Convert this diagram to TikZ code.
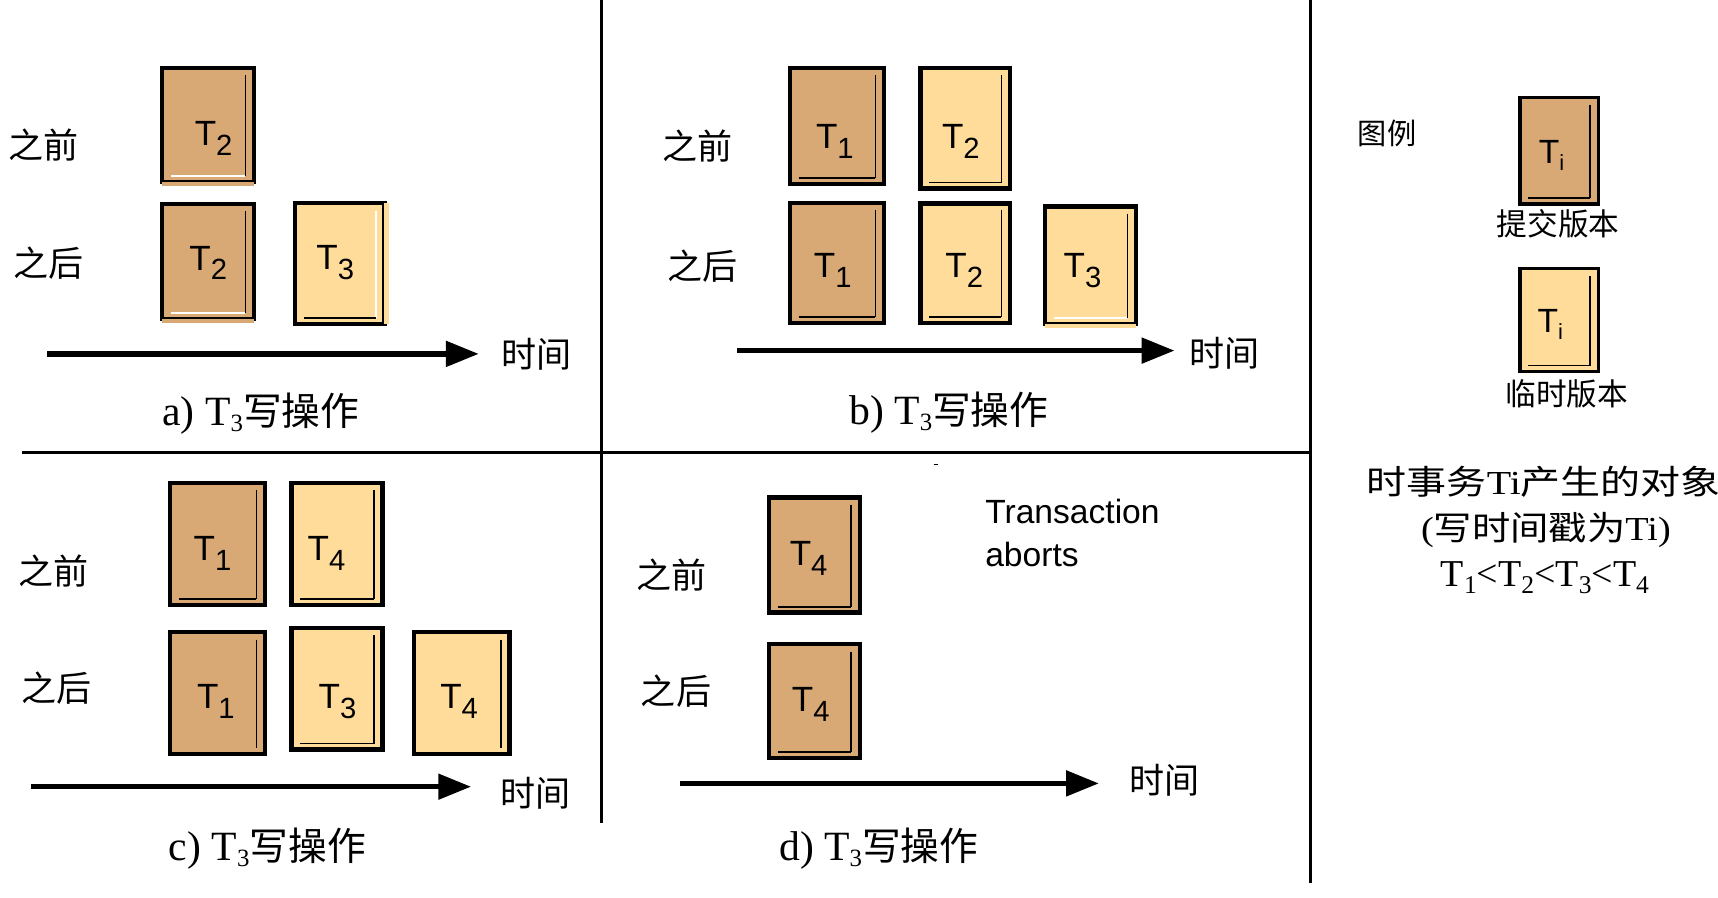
\documentclass[tikz,border=0pt]{standalone}
\usepackage{fontspec}
\setmainfont{Liberation Serif}
\newfontfamily\cjk{Noto Sans CJK SC}
\newfontfamily\arialf{Liberation Sans}
\usetikzlibrary{arrows.meta}
\definecolor{dark}{HTML}{D8A974}
\definecolor{light}{HTML}{FFDC99}
\newcommand\Tsub[1]{T\raisebox{-6.75pt}{\fontsize{20}{20}\selectfont #1}}
\newcommand\Tcap[1]{T\raisebox{-3.5pt}{\fontsize{17}{17}\selectfont #1}{\cjk\fontsize{26.5}{30}\selectfont 写操作}}
\newcommand\ssub[1]{\raisebox{-4.5pt}{\fontsize{17.5}{17.5}\selectfont #1}}
\newcommand\Tleg{T\raisebox{-5pt}{\fontsize{15}{15}\selectfont i}}
\tikzset{
  vcol/.store in=\vcol, hcol/.store in=\hcol,
  tb/.style={draw=black, line width=3pt, inner sep=0pt, vcol=black, hcol=black,
    path picture={
      \draw[line width=1.2pt, draw=\vcol] ([xshift=-6pt,yshift=-5pt]path picture bounding box.north east) -- ([xshift=-6pt,yshift=4pt]path picture bounding box.south east);
      \draw[line width=1.2pt, draw=\hcol] ([xshift=6pt,yshift=4pt]path picture bounding box.south west) -- ([xshift=-6pt,yshift=4pt]path picture bounding box.south east);
    }},
  dk/.style={tb, fill=dark},
  lt/.style={tb, fill=light},
  tl/.style={font=\arialf\fontsize{24}{24}\selectfont, inner sep=0pt},
  cj/.style={font=\cjk\fontsize{24}{24}\selectfont, inner sep=0pt},
  capt/.style={font=\fontsize{28.5}{30}\selectfont, inner sep=0pt},
  tarrow/.style={line width=3.75pt, -{Triangle[length=22.5pt,width=17pt]}},
  divider/.style={line width=2.6pt},
}
\begin{document}
\begin{tikzpicture}[x=0.75pt,y=-0.75pt]
\useasboundingbox (0,0) rectangle (1568,819.6);
% dividers
\draw[divider] (549,0) -- (549,751);
\draw[divider] (1196,0) -- (1196,806);
\draw[divider] (20,413) -- (1196,413);
\draw[line width=0.8pt] (852,424) -- (856,424);

% ---------- panel a ----------
\node[cj] (aBl) at (40,132) {之前};
\node[cj] (aAl) at (44,240) {之后};
\node[dk, minimum width=63pt, minimum height=78pt, hcol=white] (aB2) at (190,114) {};
\node[dk, minimum width=63pt, minimum height=78.75pt, hcol=white] (aA2) at (190,238.5) {};
\node[lt, minimum width=61.5pt, minimum height=82.5pt, vcol=white] (aA3) at (310,240.5) {};
\draw[dark, line width=3.3pt] ([xshift=1.5pt]aB2.south west) -- ([xshift=-1.5pt]aB2.south east);
\draw[dark, line width=3.3pt] ([xshift=1.5pt]aA2.south west) -- ([xshift=-1.5pt]aA2.south east);
\draw[light, line width=3.3pt] ([yshift=-1.5pt]aA3.north east) -- ([yshift=1.5pt]aA3.south east);
\node[tl] (aB2t) at (195,126) {\Tsub{2}};
\node[tl] (aA2t) at (190,240) {\Tsub{2}};
\node[tl] (aA3t) at (306,240) {\Tsub{3}};
\coordinate (aS) at (43,323); \coordinate (aE) at (437,323);
\draw[tarrow] (aS) -- (aE);
\node[cj] (aT) at (490,323) {时间};
\node[capt] (capa) at (238,378) {a) \Tcap{3}};

% ---------- panel b ----------
\node[cj] (bBl) at (637,133) {之前};
\node[cj] (bAl) at (641,243) {之后};
\node[dk, minimum width=64.5pt, minimum height=79.5pt] (bB1) at (764,115) {};
\node[lt, minimum width=61.5pt, minimum height=82.5pt] (bB2) at (881,117) {};
\node[dk, minimum width=64.5pt, minimum height=82.5pt] (bA1) at (764,240) {};
\node[lt, minimum width=61.5pt, minimum height=82.5pt] (bA2) at (881,240) {};
\node[lt, minimum width=62.25pt, minimum height=80.25pt, hcol=white] (bA3) at (995.5,242) {};
\draw[line width=3pt] ([yshift=-2.5pt]bA2.north west) -- ([yshift=-2.5pt]bA2.north east);
\draw[light, line width=3.3pt] ([xshift=1.5pt]bA3.south west) -- ([xshift=-1.5pt]bA3.south east);
\node[tl] (bB1t) at (762,129) {\Tsub{1}};
\node[tl] (bB2t) at (877,129) {\Tsub{2}};
\node[tl] (bA1t) at (760,247) {\Tsub{1}};
\node[tl] (bA2t) at (880,247) {\Tsub{2}};
\node[tl] (bA3t) at (988,247) {\Tsub{3}};
\coordinate (bS) at (673,320); \coordinate (bE) at (1072,320);
\draw[tarrow] (bS) -- (bE);
\node[cj] (bT) at (1118,322) {时间};
\node[capt] (capb) at (866,377) {b) \Tcap{3}};

% ---------- panel c ----------
\node[cj] (cBl) at (49,521) {之前};
\node[cj] (cAl) at (52,628) {之后};
\node[dk, minimum width=65.25pt, minimum height=83.25pt] (cB1) at (198.5,496.5) {};
\node[lt, minimum width=62.25pt, minimum height=83.25pt] (cB4) at (307.5,496.5) {};
\node[dk, minimum width=65.25pt, minimum height=83.25pt, hcol=none] (cA1) at (198.5,632.5) {};
\node[lt, minimum width=62.25pt, minimum height=83.25pt] (cA3) at (307.5,628.5) {};
\node[lt, minimum width=65.25pt, minimum height=83.25pt, hcol=none] (cA4) at (421.5,632.5) {};
\node[tl] (cB1t) at (194,505) {\Tsub{1}};
\node[tl] (cB4t) at (298,505) {\Tsub{4}};
\node[tl] (cA1t) at (197,640) {\Tsub{1}};
\node[tl] (cA3t) at (308,640) {\Tsub{3}};
\node[tl] (cA4t) at (419,640) {\Tsub{4}};
\coordinate (cS) at (28,718); \coordinate (cE) at (430,718);
\draw[tarrow] (cS) -- (cE);
\node[cj] (cT) at (489,724) {时间};
\node[capt] (capc) at (244,775) {c) \Tcap{3}};

% ---------- panel d ----------
\node[cj] (dBl) at (613,525) {之前};
\node[cj] (dAl) at (617,631) {之后};
\node[dk, minimum width=62.25pt, minimum height=78.75pt] (dB4) at (743.5,506.5) {};
\node[dk, minimum width=62.25pt, minimum height=78pt] (dA4) at (743.5,640) {};
\node[tl] (dB4t) at (738,510) {\Tsub{4}};
\node[tl] (dA4t) at (740,643) {\Tsub{4}};
\node[font=\arialf\fontsize{23}{30}\selectfont, inner sep=0pt, align=left, anchor=north west] (abort) at (899,455) {Transaction\\aborts};
\coordinate (dS) at (621,715); \coordinate (dE) at (1003,715);
\draw[tarrow] (dS) -- (dE);
\node[cj] (dT) at (1063,712) {时间};
\node[capt] (capd) at (802,775) {d) \Tcap{3}};

% ---------- legend ----------
\node[cj, font=\cjk\fontsize{20}{20}\selectfont] (lgt) at (1266,122) {图例};
\node[dk, line width=2.6pt, minimum width=54pt, minimum height=72.75pt] (lgC) at (1423,137.5) {};
\node[tl, font=\arialf\fontsize{23}{23}\selectfont] (lgCt) at (1416,142) {\Tleg};
\node[cj, font=\cjk\fontsize{21}{21}\selectfont] (lgCl) at (1422,204) {提交版本};
\node[lt, line width=2.6pt, minimum width=54pt, minimum height=70.5pt] (lgT) at (1423,292) {};
\node[tl, font=\arialf\fontsize{23}{23}\selectfont] (lgTt) at (1415,296) {\Tleg};
\node[cj, font=\cjk\fontsize{21}{21}\selectfont] (lgTl) at (1430,359) {临时版本};
\node[cj, font=\cjk\fontsize{23}{23}\selectfont] (ln1) at (1409,440) {\scalebox{1.19}[1]{时事务{\rmfamily Ti}产生的对象}};
\node[cj, font=\cjk\fontsize{23}{23}\selectfont] (ln2) at (1411,484) {\scalebox{1.14}[1]{{\rmfamily (}写时间戳为{\rmfamily Ti)}}};
\node[font=\fontsize{26}{26}\selectfont, inner sep=0pt] (ln3) at (1410,527) {T\ssub{1}<T\ssub{2}<T\ssub{3}<T\ssub{4}};
\end{tikzpicture}
\end{document}
